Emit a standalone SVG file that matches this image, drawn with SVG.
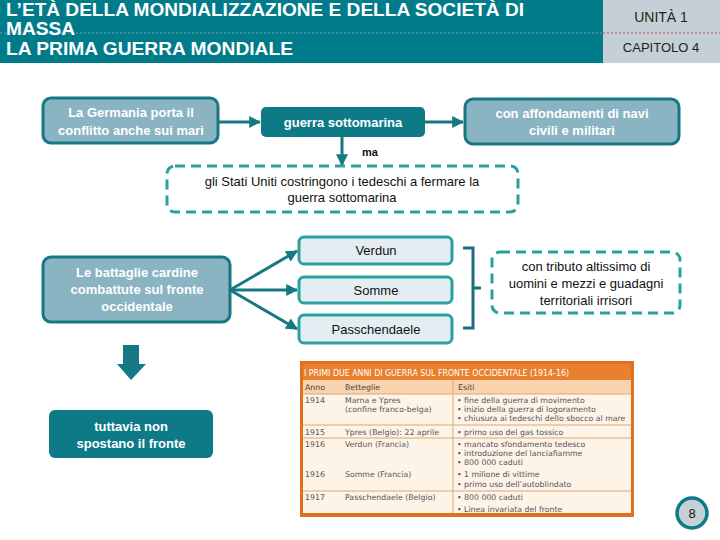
<svg xmlns="http://www.w3.org/2000/svg" width="720" height="540" viewBox="0 0 720 540">
<defs>
<marker id="ah" viewBox="0 0 10 10" refX="9" refY="5" markerWidth="4" markerHeight="4" orient="auto" markerUnits="strokeWidth">
<path d="M0,0 L10,5 L0,10 z" fill="#167785"/>
</marker>
<style>
.hd{font-family:"Liberation Sans",Arial,sans-serif;font-weight:bold;font-size:18px;fill:#fff}
.nb{fill:#8AB4C2;stroke:#167785;stroke-width:3}
.wt{font-family:"Liberation Sans",Arial,sans-serif;font-weight:bold;font-size:13px;fill:#fff;text-anchor:middle}
.bt{font-family:"Liberation Sans",Arial,sans-serif;font-size:13px;fill:#111;text-anchor:middle}
.dash{fill:#fff;stroke:#2AA19F;stroke-width:3;stroke-dasharray:10,6}
.lb{fill:#E4EDF1;stroke:#2AA19F;stroke-width:3}
.cn{stroke:#167785;stroke-width:3;fill:none}
.tt{font-family:"DejaVu Sans",sans-serif;font-size:7.8px;fill:#555}
.th{font-family:"DejaVu Sans",sans-serif;font-size:7.8px;fill:#444}
</style>
</defs>
<rect width="720" height="540" fill="#fff"/>
<g id="header">
<rect x="0" y="0" width="603" height="63" fill="#007B8A"/>
<rect x="603" y="0" width="117" height="63" fill="#C5D0D6"/>
<line x1="0" y1="33" x2="603" y2="33" stroke="#6E9FA6" stroke-width="1" stroke-dasharray="2,2"/>
<line x1="603" y1="33" x2="720" y2="33" stroke="#B05050" stroke-width="1" stroke-dasharray="2,2"/>
<text class="hd" x="6" y="16" textLength="518" lengthAdjust="spacingAndGlyphs">L’ETÀ DELLA MONDIALIZZAZIONE E DELLA SOCIETÀ DI</text>
<text class="hd" x="6" y="35" textLength="69" lengthAdjust="spacingAndGlyphs">MASSA</text>
<text class="hd" x="6" y="55" textLength="287" lengthAdjust="spacingAndGlyphs">LA PRIMA GUERRA MONDIALE</text>
<text x="661" y="22" font-family="Liberation Sans,Arial,sans-serif" font-size="14" fill="#222" text-anchor="middle">UNITÀ 1</text>
<text x="661" y="52" font-family="Liberation Sans,Arial,sans-serif" font-size="13" fill="#222" text-anchor="middle">CAPITOLO 4</text>
</g>
<g id="connectors">
<line class="cn" x1="218" y1="122" x2="260" y2="122" marker-end="url(#ah)"/>
<line class="cn" x1="425" y1="122" x2="463" y2="122" marker-end="url(#ah)"/>
<line class="cn" x1="342" y1="137" x2="342" y2="165" marker-end="url(#ah)"/>
<line class="cn" x1="230" y1="290" x2="297" y2="251" marker-end="url(#ah)"/>
<line class="cn" x1="230" y1="290" x2="297" y2="290" marker-end="url(#ah)"/>
<line class="cn" x1="230" y1="290" x2="297" y2="329" marker-end="url(#ah)"/>
<path d="M463,248 H473 V328 H463 M473,288 H481" fill="none" stroke="#1B6F7C" stroke-width="3"/>
<path d="M123,345 H139 V364 H146 L131,380 L117,364 H123 Z" fill="#167785"/>
<text x="370" y="156" font-family="Liberation Sans,Arial,sans-serif" font-weight="bold" font-size="11" fill="#111" text-anchor="middle">ma</text>
</g>
<g id="n-germania">
<rect class="nb" x="43" y="98" width="175" height="45" rx="8"/>
<text class="wt" x="131" y="117">La Germania porta il</text>
<text class="wt" x="131" y="135">conflitto anche sui mari</text>
</g>
<g id="n-sottomarina">
<rect x="261" y="107" width="164" height="30" rx="5" fill="#0E7A87"/>
<text class="wt" x="343" y="127">guerra sottomarina</text>
</g>
<g id="n-affondamenti">
<rect class="nb" x="465" y="99" width="214" height="45" rx="8"/>
<text class="wt" x="572" y="118">con affondamenti di navi</text>
<text class="wt" x="572" y="135">civili e militari</text>
</g>
<g id="n-usa">
<rect class="dash" x="167" y="166" width="351" height="46" rx="8"/>
<text class="bt" x="342" y="186">gli Stati Uniti costringono i tedeschi a fermare la</text>
<text class="bt" x="342" y="202">guerra sottomarina</text>
</g>
<g id="n-battaglie">
<rect class="nb" x="43" y="257" width="187" height="65" rx="8"/>
<text class="wt" x="137" y="277">Le battaglie cardine</text>
<text class="wt" x="137" y="294">combattute sul fronte</text>
<text class="wt" x="137" y="311">occidentale</text>
</g>
<g id="n-verdun">
<rect class="lb" x="299" y="237" width="153" height="27" rx="5"/>
<text class="bt" x="376" y="255">Verdun</text>
</g>
<g id="n-somme">
<rect class="lb" x="299" y="277" width="153" height="26" rx="5"/>
<text class="bt" x="376" y="295">Somme</text>
</g>
<g id="n-passchendaele">
<rect class="lb" x="299" y="315" width="153" height="28" rx="5"/>
<text class="bt" x="376" y="334">Passchendaele</text>
</g>
<g id="n-tributo">
<rect class="dash" x="492" y="252" width="188" height="61" rx="8"/>
<text class="bt" x="586" y="271">con tributo altissimo di</text>
<text class="bt" x="586" y="288">uomini e mezzi e guadagni</text>
<text class="bt" x="586" y="305">territoriali irrisori</text>
</g>
<g id="n-tuttavia">
<rect x="49" y="410" width="164" height="48" rx="6" fill="#0E7A87"/>
<text class="wt" x="131" y="431">tuttavia non</text>
<text class="wt" x="131" y="448">spostano il fronte</text>
</g>
<g id="table">
<rect x="301.5" y="362.5" width="331" height="153" fill="#FDF3E7" stroke="#E07020" stroke-width="3"/>
<rect x="303" y="364" width="328" height="16" fill="#E8802E"/>
<text x="304" y="376" font-family="DejaVu Sans,sans-serif" font-size="8.2" fill="#fff" textLength="265" lengthAdjust="spacingAndGlyphs">I PRIMI DUE ANNI DI GUERRA SUL FRONTE OCCIDENTALE (1914-16)</text>
<rect x="303" y="380" width="328" height="14" fill="#F8D3AE"/>
<g stroke="#D9A878" stroke-width="1">
<line x1="453" y1="380" x2="453" y2="514"/>
<line x1="303" y1="394" x2="631" y2="394"/>
<line x1="303" y1="425" x2="631" y2="425"/>
<line x1="303" y1="438" x2="631" y2="438"/>
<line x1="303" y1="491" x2="631" y2="491"/>
</g>
<text class="th" x="305" y="390">Anno</text>
<text class="th" x="345" y="390">Betteglie</text>
<text class="th" x="458" y="390">Esiti</text>
<text class="tt" x="305" y="403">1914</text>
<text class="tt" x="345" y="403">Marna e Ypres</text>
<text class="tt" x="345" y="412">(confine franco-belga)</text>
<text class="tt" x="457" y="403">• fine della guerra di movimento</text>
<text class="tt" x="457" y="412">• inizio della guerra di logoramento</text>
<text class="tt" x="457" y="421">• chiusura ai tedeschi dello sbocco al mare</text>
<text class="tt" x="305" y="435">1915</text>
<text class="tt" x="345" y="435">Ypres (Belgio): 22 aprile</text>
<text class="tt" x="457" y="435">• primo uso del gas tossico</text>
<text class="tt" x="305" y="447">1916</text>
<text class="tt" x="345" y="447">Verdun (Francia)</text>
<text class="tt" x="457" y="447">• mancato sfondamento tedesco</text>
<text class="tt" x="457" y="456">• introduzione del lanciafiamme</text>
<text class="tt" x="457" y="465">• 800 000 caduti</text>
<text class="tt" x="305" y="477">1916</text>
<text class="tt" x="345" y="477">Somme (Francia)</text>
<text class="tt" x="457" y="477">• 1 milione di vittime</text>
<text class="tt" x="457" y="487">• primo uso dell’autoblindato</text>
<text class="tt" x="305" y="500">1917</text>
<text class="tt" x="345" y="500">Passchendaele (Belgio)</text>
<text class="tt" x="457" y="500">• 800 000 caduti</text>
<text class="tt" x="457" y="512">• Linea invariata del fronte</text>
<rect x="301.5" y="362.5" width="331" height="153" fill="none" stroke="#E07020" stroke-width="3"/>
<rect x="303" y="513" width="328" height="4" fill="#E07020"/>
</g>
<g id="page">
<circle cx="692" cy="513" r="15" fill="#C5D0D6" stroke="#0E7A87" stroke-width="3.5"/>
<text x="692" y="518" font-family="Liberation Sans,Arial,sans-serif" font-size="13" fill="#111" text-anchor="middle">8</text>
</g>
</svg>
